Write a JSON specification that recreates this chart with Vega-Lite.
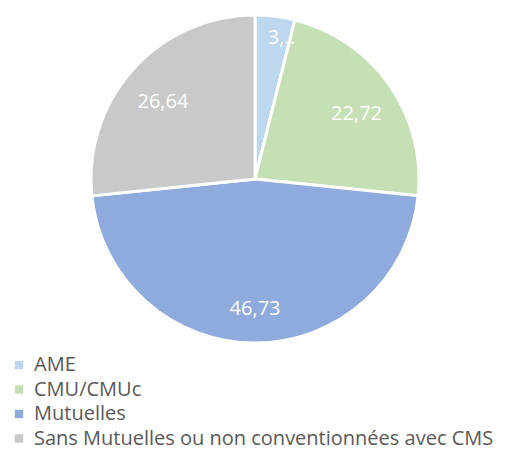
{
  "$schema": "https://vega.github.io/schema/vega-lite/v6.json",
  "width": 510,
  "height": 358,
  "autosize": {"type": "none"},
  "padding": {"left": 0, "top": 0, "right": 8, "bottom": 93},
  "background": "white",
  "config": {"view": {"stroke": null}, "font": "Open Sans"},
  "data": {
    "values": [
      {"cat": "AME", "value": 3.91, "label": "3,91"},
      {"cat": "CMU/CMUc", "value": 22.72, "label": "22,72"},
      {"cat": "Mutuelles", "value": 46.73, "label": "46,73"},
      {"cat": "Sans Mutuelles ou non conventionnées avec CMS", "value": 26.64, "label": "26,64"}
    ]
  },
  "encoding": {
    "theta": {"field": "value", "type": "quantitative", "stack": true},
    "order": {"field": "cat", "sort": "ascending"}
  },
  "layer": [
    {
      "mark": {"type": "arc", "outerRadius": 164, "stroke": "white", "strokeWidth": 3},
      "encoding": {
        "color": {
          "field": "cat",
          "type": "nominal",
          "scale": {
            "domain": ["AME", "CMU/CMUc", "Mutuelles", "Sans Mutuelles ou non conventionnées avec CMS"],
            "range": ["#BDD7EE", "#C5E0B4", "#8FAADC", "#C9C9C9"]
          },
          "legend": {
            "orient": "none",
            "legendX": 9,
            "legendY": 355,
            "title": null,
            "symbolType": "square",
            "symbolSize": 70,
            "symbolStrokeWidth": 0,
            "labelFontSize": 20,
            "labelColor": "#595959",
            "labelLimit": 520,
            "labelOffset": 5,
            "rowPadding": 4.5,
            "symbolOffset": 0
          }
        }
      }
    },
    {
      "mark": {"type": "text", "radius": 124, "fontSize": 20, "color": "white", "dy": 6},
      "encoding": {
        "text": {"condition": {"test": "datum.cat == 'AME'", "value": ""}, "field": "label"}
      }
    },
    {
      "mark": {"type": "text", "radius": 142, "fontSize": 20, "color": "white", "limit": 28, "ellipsis": "..", "dx": 9},
      "encoding": {
        "text": {"condition": {"test": "datum.cat != 'AME'", "value": ""}, "field": "label"}
      }
    }
  ]
}
